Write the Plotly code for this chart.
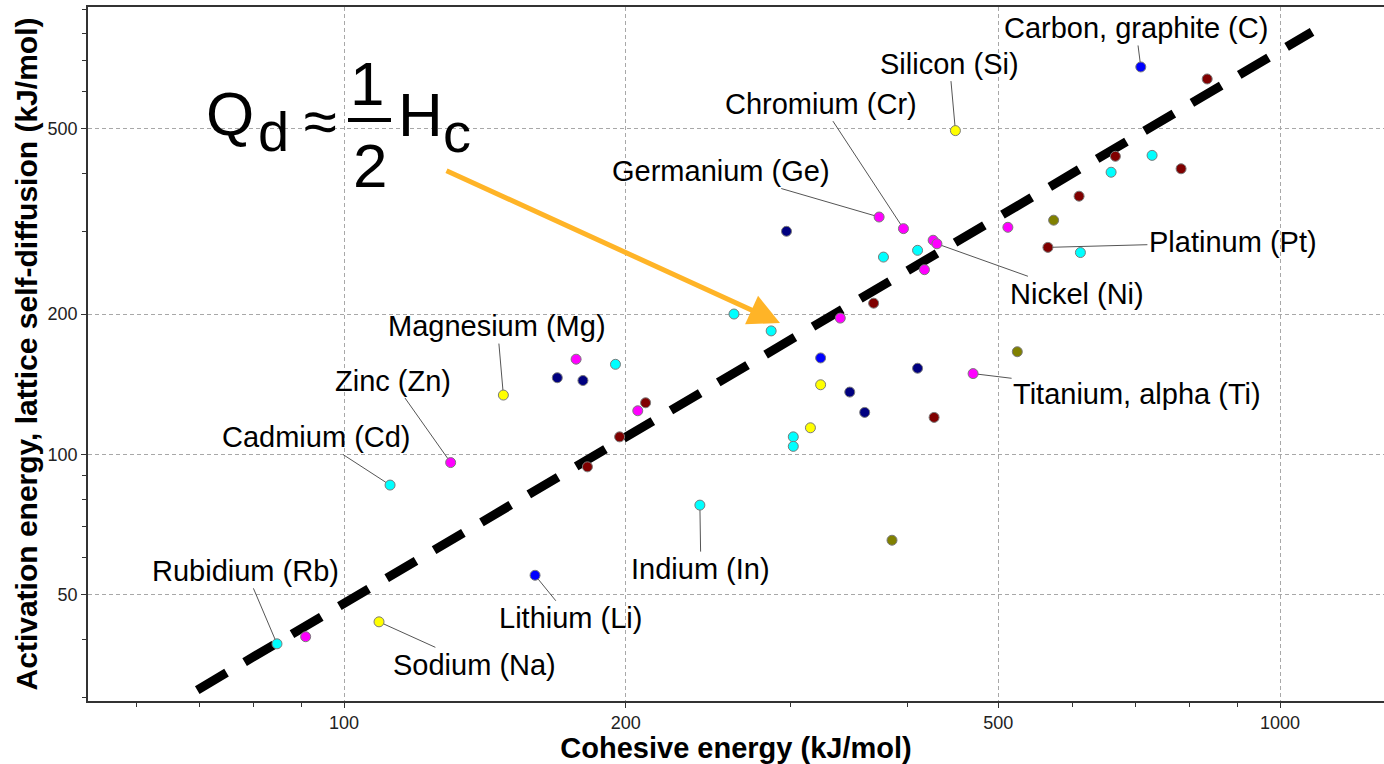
import numpy as np
import plotly.graph_objects as go

# ---------------- data: cohesive energy H_c (x) vs. activation energy Q_d (y), kJ/mol -------------
cyan_h = [730, 660, 612, 410, 377, 261, 286, 302, 302, 240, 195, 112, 84.8]
cyan_q = [438, 403, 271, 274, 265, 200, 184, 109, 104, 77.8, 156, 85.9, 39.2]
cyan_names = ["", "", "", "", "", "", "", "", "", "Indium (In)", "", "Cadmium (Cd)", "Rubidium (Rb)"]

maroon_h = [836, 667, 784, 610, 565, 368, 427, 210, 197, 182]
maroon_q = [639, 436, 410, 358, 278, 211, 120, 129, 109, 94]
maroon_names = ["", "", "", "", "Platinum (Pt)", "", "", "", "", ""]

magenta_h = [512, 373, 396, 426, 430, 417, 339, 470, 177, 206, 130, 91]
magenta_q = [307, 323, 305, 288, 283, 249, 196, 149, 160, 124, 96, 40.6]
magenta_names = ["", "Germanium (Ge)", "Chromium (Cr)", "", "Nickel (Ni)", "", "",
                 "Titanium, alpha (Ti)", "", "", "Zinc (Zn)", ""]

navy_h = [297, 347, 360, 410, 169, 180]
navy_q = [301, 136, 123, 153, 146, 144]
navy_names = ["", "", "", "", "", ""]

blue_h = [710, 323, 160]
blue_q = [678, 161, 55]
blue_names = ["Carbon, graphite (C)", "", "Lithium (Li)"]

yellow_h = [450, 323, 315, 148, 109]
yellow_q = [495, 141, 114, 134, 43.7]
yellow_names = ["Silicon (Si)", "", "", "Magnesium (Mg)", "Sodium (Na)"]

olive_h = [573, 524, 385]
olive_q = [318, 166, 65.4]
olive_names = ["", "", ""]

# guide line Q_d ~ H_c / 2 (as drawn)
guide_h = [69.7, 1082]
guide_q = [31.2, 806]

x_ticks = [100, 200, 500, 1000]
y_ticks = [50, 100, 200, 500]
x_minor = [60, 70, 80, 90, 300, 400, 600, 700, 800, 900]
y_minor = [30, 40, 60, 70, 80, 90, 300, 400, 600, 700, 800, 900]

# ---------------- styles ----------------
FONT = "Liberation Sans, Arial, sans-serif"
W, H = 1384, 764
ML, MR, MT, MB = 88, 0, 7, 63
PW, PH = W - ML - MR, H - MT - MB

def paper_x(px):
    return (px - ML) / PW

def paper_y(py):
    return (H - MB - py) / PH

groups = [
    ("cyan", cyan_h, cyan_q, cyan_names, "#00FFFF"),
    ("maroon", maroon_h, maroon_q, maroon_names, "#800000"),
    ("magenta", magenta_h, magenta_q, magenta_names, "#FF00FF"),
    ("navy", navy_h, navy_q, navy_names, "#000080"),
    ("blue", blue_h, blue_q, blue_names, "#0000FF"),
    ("yellow", yellow_h, yellow_q, yellow_names, "#FFFF00"),
    ("olive", olive_h, olive_q, olive_names, "#808000"),
]

# label offsets (pixels from point to text centre)
label_offsets = {
    "Carbon, graphite (C)": (-5, -39),
    "Silicon (Si)": (-6, -67),
    "Chromium (Cr)": (-82, -125),
    "Germanium (Ge)": (-158, -46),
    "Nickel (Ni)": (140, 50),
    "Platinum (Pt)": (185, -5),
    "Titanium, alpha (Ti)": (164, 20),
    "Magnesium (Mg)": (-6, -69),
    "Zinc (Zn)": (-58, -82),
    "Cadmium (Cd)": (-74, -48),
    "Indium (In)": (1, 64),
    "Lithium (Li)": (35, 43),
    "Sodium (Na)": (95, 43),
    "Rubidium (Rb)": (-31, -73),
}

fig = go.Figure()

fig.add_trace(go.Scatter(
    x=guide_h, y=guide_q, mode="lines",
    line=dict(color="black", width=9, dash="34px,21px"),
    hoverinfo="skip", showlegend=False,
))

annotations = []
for name, hs, qs, names, color in groups:
    fig.add_trace(go.Scatter(
        x=hs, y=qs, mode="markers", name=name,
        marker=dict(size=10, color=color, line=dict(color="#7a7a7a", width=1)),
        text=names, showlegend=False,
    ))
    for h, q, lab in zip(hs, qs, names):
        if lab:
            ax, ay = label_offsets[lab]
            annotations.append(dict(
                x=np.log10(h), y=np.log10(q), xref="x", yref="y",
                text=lab, showarrow=True, arrowhead=0, arrowwidth=1,
                arrowcolor="#555555", ax=ax, ay=ay, standoff=5,
                font=dict(family=FONT, size=29, color="black"),
            ))

# formula Q_d ≈ 1/2 H_c
formula = [
    ("Q", 230, 113.5, 62),
    ("d", 273, 131, 56),
    ("≈", 320, 121, 60),
    ("1", 367, 83, 62),
    ("2", 370, 165, 62),
    ("H", 421, 114.5, 62),
    ("c", 457, 133, 56),
]
for txt, px, py, size in formula:
    annotations.append(dict(
        x=paper_x(px), y=paper_y(py), xref="paper", yref="paper",
        text=txt, showarrow=False, xanchor="center", yanchor="middle",
        font=dict(family=FONT, size=size, color="black"),
    ))

# orange arrow
annotations.append(dict(
    x=paper_x(780), y=paper_y(323), xref="paper", yref="paper",
    ax=-335, ay=-153, axref="pixel", ayref="pixel",
    text="", showarrow=True, arrowhead=2, arrowsize=1.25, arrowwidth=5,
    arrowcolor="#FFB427", standoff=0,
))

shapes = [dict(
    type="line", xref="paper", yref="paper",
    x0=paper_x(348), x1=paper_x(391), y0=paper_y(120), y1=paper_y(120),
    line=dict(color="black", width=4),
)]

axis_common = dict(
    type="log", showline=True, linecolor="#333333", linewidth=1.5,
    ticks="outside", ticklen=5, tickcolor="#333333", tickwidth=1,
    showgrid=True, gridcolor="#A8A8A8", gridwidth=1, griddash="4px,3px",
    zeroline=False, tickfont=dict(family=FONT, size=18, color="#222222"),
)

fig.update_layout(
    width=W, height=H,
    margin=dict(l=ML, r=MR, t=MT, b=MB),
    paper_bgcolor="white", plot_bgcolor="white",
    showlegend=False,
    xaxis=dict(
        **axis_common,
        range=[1.7265, 3.1111], mirror=True,
        tickmode="array", tickvals=x_ticks, ticktext=[str(v) for v in x_ticks],
        minor=dict(tickmode="array", tickvals=x_minor, ticks="outside", ticklen=4,
                   tickcolor="#333333", showgrid=False),
        title=dict(text="Cohesive energy (kJ/mol)", standoff=6,
                   font=dict(family=FONT, size=29, color="black", weight="bold")),
    ),
    yaxis=dict(
        **axis_common,
        range=[1.4706, 2.9599], mirror=False,
        tickmode="array", tickvals=y_ticks, ticktext=[str(v) for v in y_ticks],
        minor=dict(tickmode="array", tickvals=y_minor, ticks="outside", ticklen=4,
                   tickcolor="#333333", showgrid=False),
        title=dict(text="Activation energy, lattice self-diffusion (kJ/mol)", standoff=1,
                   font=dict(family=FONT, size=30, color="black", weight="bold")),
    ),
    annotations=annotations,
    shapes=shapes,
)

fig.write_html("out.html")
